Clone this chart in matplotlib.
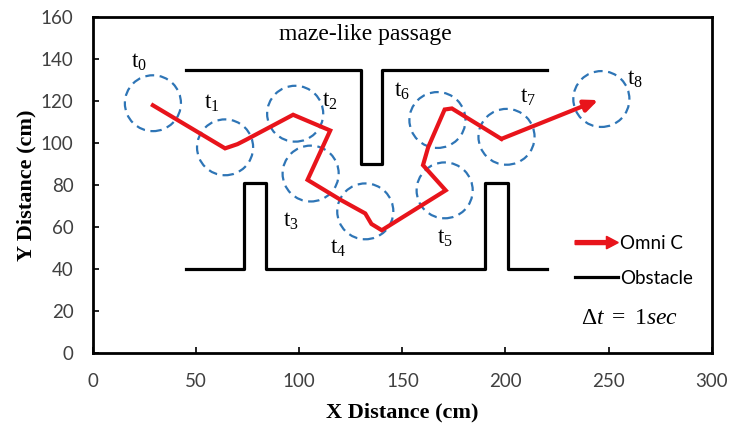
import matplotlib
matplotlib.use("Agg")
import matplotlib.pyplot as plt
from matplotlib.patches import Ellipse, FancyArrow
from matplotlib.lines import Line2D
from matplotlib.legend_handler import HandlerPatch

plt.rcParams['mathtext.fontset'] = 'custom'
plt.rcParams['mathtext.rm'] = 'Liberation Serif'
plt.rcParams['mathtext.it'] = 'Liberation Serif:italic'

# robot path (cm)
path_x = [29, 64, 70, 74, 97, 115, 104, 120, 132, 135, 140, 171, 160, 162.5, 170.5, 174, 198, 245]
path_y = [118, 97.5, 99.5, 101.5, 113.5, 106, 82.5, 73, 66.5, 61.5, 58.5, 77.5, 89.5, 98, 116, 116.5, 102, 120.5]

# obstacle walls (cm)
top_wall_x = [45, 130, 130, 140, 140, 220]
top_wall_y = [135, 135, 90, 90, 135, 135]
bottom_wall_x = [45, 73, 73, 84, 84, 190, 190, 201, 201, 220]
bottom_wall_y = [40, 40, 81, 81, 40, 40, 81, 81, 40, 40]

# robot positions at each time step
pos_x = [29, 64, 98, 105.5, 132, 170.5, 167, 200.5, 246.5]
pos_y = [119, 98, 114, 85.5, 67.5, 77.5, 111, 103, 121]
label_x = [22, 57.5, 115, 96, 119, 170.5, 150, 211, 263]
label_y = [139, 119.5, 120.5, 63, 50.5, 55, 125, 122, 131]
radius_x = 13.6
radius_y = 13.3

fig = plt.figure(figsize=(7.39, 4.28), dpi=100)
ax = fig.add_axes([0.126, 0.175, 0.837, 0.785])

for cx, cy in zip(pos_x, pos_y):
    ax.add_patch(Ellipse((cx, cy), 2 * radius_x, 2 * radius_y, fill=False,
                         edgecolor='#2E75B6', lw=1.6, ls=(0, (4, 2.5)), zorder=2))

ax.plot(top_wall_x, top_wall_y, color='black', lw=2.3, zorder=3)
ax.plot(bottom_wall_x, bottom_wall_y, color='black', lw=2.3, zorder=3)

ax.plot(path_x[:-1], path_y[:-1], color='#E8141B', lw=3, solid_joinstyle='miter', zorder=4)
ax.annotate('', xy=(path_x[-1], path_y[-1]), xytext=(path_x[-2], path_y[-2]),
            arrowprops=dict(arrowstyle='-|>,head_length=0.8,head_width=0.35',
                            color='#E8141B', lw=3, shrinkA=0, shrinkB=0), zorder=4)

for i, (lx, ly) in enumerate(zip(label_x, label_y)):
    ax.text(lx, ly, r'$\mathrm{t}_{%d}$' % i, fontsize=16.5, ha='center', va='center')

ax.text(132, 151.5, 'maze-like passage', fontsize=17, family='Liberation Serif',
        ha='center', va='center')


def make_arrow(legend, orig_handle, xdescent, ydescent, width, height, fontsize):
    return FancyArrow(-xdescent, height / 2 - ydescent, width, 0, width=height * 0.3,
                      head_width=height * 0.95, head_length=height * 0.9,
                      length_includes_head=True, color='#E8141B')


arrow_handle = FancyArrow(0, 0, 1, 0, color='#E8141B')
wall_handle = Line2D([], [], color='black', lw=2.3)
leg = ax.legend([arrow_handle, wall_handle], ['Omni C', 'Obstacle'],
                handler_map={FancyArrow: HandlerPatch(patch_func=make_arrow)},
                loc='center left', bbox_to_anchor=(0.752, 0.274), frameon=False,
                prop={'family': 'Lato', 'size': 13.5}, handlelength=2.3,
                handletextpad=0.1, labelspacing=0.95)
ax.text(260, 17, r'$\Delta t\ =\ 1sec$', fontsize=17, ha='center', va='center')

ax.set_xlim(0, 300)
ax.set_ylim(0, 160)
ax.set_xticks(range(0, 301, 50))
ax.set_yticks(range(0, 161, 20))
ax.tick_params(direction='in', length=4, width=1.2, labelsize=13.5, colors='black',
               labelcolor='#404040', pad=14)
for lab in ax.get_xticklabels() + ax.get_yticklabels():
    lab.set_family('Lato')
for sp in ax.spines.values():
    sp.set_linewidth(2)

ax.set_xlabel('X Distance (cm)', fontsize=16, fontweight='bold',
              family='Liberation Serif', labelpad=9)
ax.set_ylabel('Y Distance (cm)', fontsize=16, fontweight='bold',
              family='Liberation Serif', labelpad=3)

fig.savefig('out.png', dpi=100)
